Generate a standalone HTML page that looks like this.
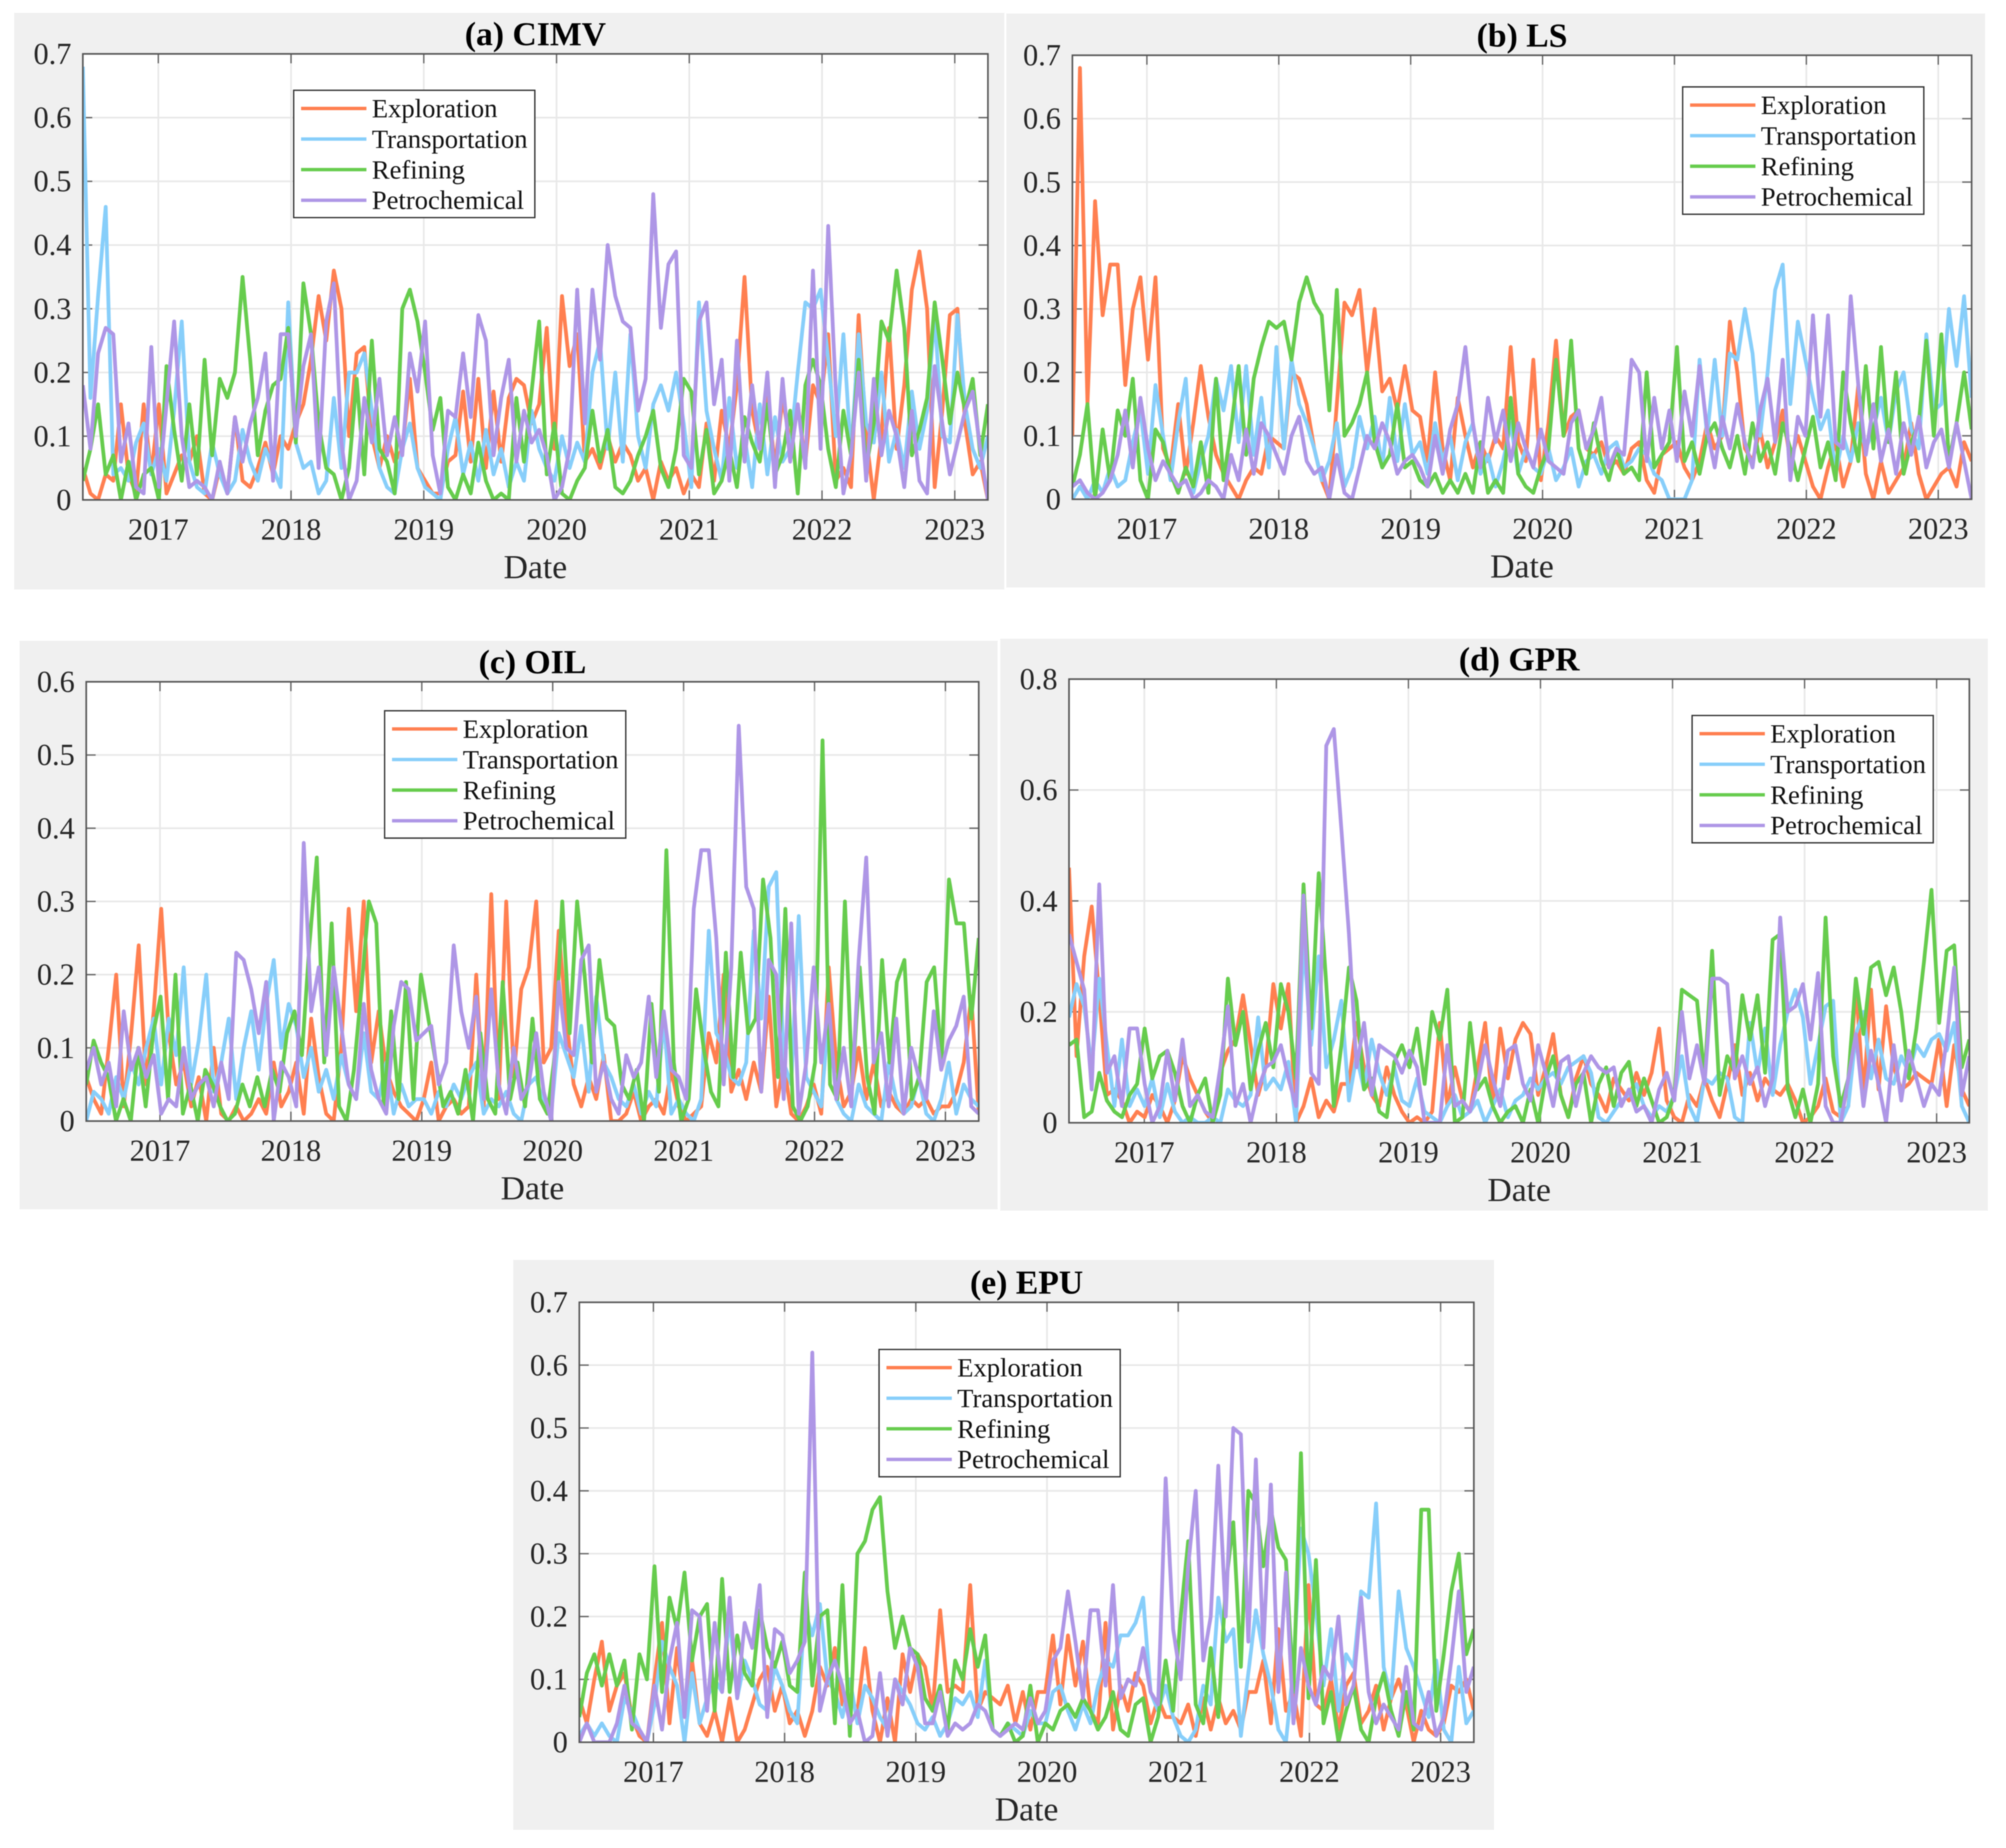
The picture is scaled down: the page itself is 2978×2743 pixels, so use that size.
<!DOCTYPE html>
<html lang="en">
<head>
<meta charset="utf-8">
<title>Connectedness charts</title>
<style>
html,body{margin:0;padding:0;background:#fff;}
svg{display:block;font-family:"Liberation Serif",serif;filter:blur(0.8px);}
</style>
</head>
<body>
<svg id="figure" xmlns="http://www.w3.org/2000/svg" width="2978" height="2743" viewBox="0 0 2978 2743"></svg>
<script>
const yearLabels = [2017,2018,2019,2020,2021,2022,2023];
const seriesNames = ['Exploration','Transportation','Refining','Petrochemical'];
const startYear = 2016.432;
const endYear = 2023.25;
const ticks7 = [0,0.1,0.2,0.3,0.4,0.5,0.6,0.7];
const ticks6 = [0,0.1,0.2,0.3,0.4,0.5,0.6];
const ticks8 = [0,0.2,0.4,0.6,0.8];

const cimvExploration = [5,1,0,4,3,15,4,1,15,4, 15,1,4,7,6,10,1,0,5,1,13,3,2,5,9,4,10, 8,12,15,22,32,25,36,30,10,23,24,10,5,10,6,8,19,5, 3,1,1,6,7,17,6,19,5,17,6,16,19,18,12,15,27, 8,32,21,26,6,8,5,10,6,9,7,3,5,0,6,3,5,1, 4,2,12,3,14,8,18,35,14,8,17,5,16,9,15,6,18, 15,26,3,5,2,29,10,0,10,27,8,18,33,39,30,2,14,29, 30,12,4,6,0];
const cimvTransportation = [68,16,32,46,4,5,3,9,12,4, 8,3,14,28,6,2,1,9,4,1,3,11,6,3,8,5,2, 31,9,5,6,1,3,16,5,20,20,23,14,5,2,1,8,12,5, 2,1,0,8,13,4,9,3,11,4,8,2,6,3,14,8,5, 3,10,5,9,6,20,25,8,20,6,26,10,5,15,18,14,20,12, 2,31,14,8,3,16,5,10,2,15,4,13,6,8,20,31,30, 33,22,10,26,7,26,12,9,20,6,11,5,17,8,14,29,10,9, 29,15,8,5,10];
const cimvRefining = [3,8,15,4,7,0,6,0,4,5, 0,21,11,3,15,4,22,7,19,16,20,35,22,7,14,18,19, 27,9,34,26,12,5,4,0,5,19,4,25,8,6,1,30,33,28, 20,11,16,2,0,4,1,9,3,0,1,0,16,6,17,28,4, 12,1,0,3,5,14,6,11,2,1,3,7,10,14,5,2,8,19, 17,4,11,1,3,8,2,13,9,6,15,4,7,14,1,18,22, 18,8,2,14,7,22,5,12,28,25,36,27,7,11,16,31,22,12, 20,14,19,7,15];
const cimvPetrochemical = [18,8,23,27,26,6,12,2,1,24, 2,15,28,10,2,3,2,0,6,1,13,6,12,16,23,3,26, 26,10,21,26,5,28,34,9,0,3,16,9,19,7,13,7,23,17, 28,7,1,14,13,23,13,29,25,7,16,22,6,14,9,11,7, 0,2,8,33,12,33,22,40,32,28,27,14,19,48,27,37,39,7, 5,28,31,15,22,3,25,6,18,8,20,2,19,6,15,5,36, 8,43,17,1,7,20,3,19,7,14,10,2,14,3,1,21,12,4, 9,14,17,8,0];

const lsExploration = [10,68,15,47,29,37,37,18,30,35, 22,35,8,5,15,4,12,21,13,7,4,2,0,3,5,4,10, 9,8,20,19,15,8,3,0,15,31,29,33,20,30,17,19,14,21, 14,13,6,20,8,3,16,10,5,9,6,10,8,24,9,6,22, 3,12,25,10,13,14,8,7,9,5,6,4,8,9,3,1,7,8, 9,5,3,6,12,8,10,28,20,8,6,11,5,9,14,6,10, 6,2,0,5,9,2,6,18,4,0,6,1,3,5,12,4,0,2, 4,5,2,9,6];
const lsTransportation = [0,2,0,3,1,5,2,3,9,14, 4,18,10,3,12,19,1,6,10,19,14,21,9,21,7,16,5, 24,8,22,15,12,8,3,6,12,2,5,13,8,13,5,16,6,15, 7,9,4,12,6,10,3,9,12,4,7,2,6,12,4,8,5, 4,8,3,5,8,2,6,7,4,8,9,5,6,8,7,4,3,0, 0,0,3,22,10,22,10,23,22,30,23,10,20,33,37,15,28, 22,16,11,14,4,10,6,12,8,11,16,9,17,20,11,8,26,14, 15,30,21,32,16];
const lsRefining = [2,7,15,0,11,3,14,10,19,3, 0,11,9,4,1,5,2,9,1,19,3,11,21,7,19,24,28, 27,28,22,31,35,31,29,14,33,10,12,15,20,9,5,7,15,5, 6,3,2,4,1,3,1,4,1,9,1,3,1,16,4,2,1, 5,8,22,10,25,8,4,12,6,3,8,4,5,3,20,5,7,9, 24,6,9,4,10,12,8,5,10,4,12,6,9,4,12,8,3, 8,13,5,9,3,20,12,6,21,8,24,9,20,4,9,12,25,10, 26,6,12,20,11];
const lsPetrochemical = [2,3,1,0,1,3,7,14,5,16, 8,3,6,4,2,3,0,1,3,2,0,7,3,11,4,12,10, 7,4,10,13,6,4,5,0,7,1,0,5,10,8,12,9,4,6, 7,5,2,10,4,11,15,24,12,5,16,9,14,6,12,8,5, 11,6,5,4,12,14,8,11,16,5,8,7,22,20,6,16,8,14, 6,17,10,21,11,5,13,8,15,9,5,14,19,9,22,3,13, 10,29,13,29,9,8,32,18,7,15,6,11,4,12,7,13,5,9, 11,5,12,6,0];

const oilExploration = [6,3,1,10,20,2,12,24,5,15, 29,12,5,8,2,6,0,10,1,0,2,0,1,3,1,8,2, 4,8,1,14,6,1,0,10,29,15,30,8,15,7,4,2,1,0, 3,8,0,2,3,1,2,20,2,31,3,30,6,18,21,30,8, 10,26,14,5,2,6,3,9,0,0,1,4,0,2,3,1,7,2, 0,1,2,12,8,20,4,7,3,8,4,17,2,8,1,0,2, 5,1,21,8,2,4,10,3,8,2,4,2,1,3,2,3,1,2, 2,4,8,17,1];
const oilTransportation = [0,4,3,1,6,3,8,5,10,14, 5,14,9,21,5,11,20,4,8,14,3,10,15,7,16,22,10, 16,13,6,10,4,7,3,9,5,3,12,4,3,8,1,5,2,3, 3,1,4,2,5,3,6,8,1,3,2,4,1,0,5,6,2, 1,12,9,6,13,4,17,8,6,3,2,5,1,4,2,14,1,3, 1,0,3,26,12,10,6,5,8,26,14,32,34,8,5,28,6, 4,2,15,3,1,0,5,2,1,0,8,3,1,2,6,1,0,3, 8,1,5,3,2];
const oilRefining = [5,11,8,6,0,3,0,10,2,12, 17,3,20,1,5,0,7,5,2,0,1,5,2,6,2,7,4, 12,15,9,24,36,8,27,2,0,7,18,30,27,2,15,3,19,3, 20,14,8,2,4,1,7,0,12,3,1,19,3,8,2,14,3, 1,9,30,12,30,20,8,22,14,13,5,3,7,0,16,4,37,8, 0,3,18,10,4,2,23,6,23,12,14,33,25,6,29,2,0, 2,8,52,5,3,30,5,21,6,1,22,8,19,22,3,6,19,21, 8,33,27,27,14,25];
const oilPetrochemical = [7,10,5,8,2,15,7,10,6,9, 1,3,2,10,3,5,6,2,8,3,23,22,18,12,19,0,8, 6,2,38,15,21,9,21,13,5,3,16,7,3,1,13,19,18,11, 12,13,5,8,24,15,10,17,3,18,5,1,10,3,5,12,4, 0,19,10,9,22,24,4,8,3,1,9,6,8,17,6,15,7,6, 3,29,37,37,25,5,21,54,32,29,4,22,20,3,27,1,8, 21,8,16,3,10,2,22,36,8,12,2,14,1,10,6,3,15,7, 11,13,17,2,1];

const gprExploration = [46,12,30,39,23,5,6,4,0,2, 1,5,3,0,4,12,8,5,2,0,9,13,15,23,14,5,10, 25,17,25,0,3,8,1,4,2,7,7,18,10,5,3,10,5,2, 0,1,0,2,18,3,10,4,2,10,18,3,17,8,15,18,16, 5,10,16,5,1,8,12,7,5,2,8,6,4,9,5,9,17,4, 1,0,5,3,8,4,1,7,14,5,9,4,8,6,5,7,4, 0,1,3,8,2,1,3,25,5,24,6,21,10,6,7,9,8,7, 15,3,14,6,3];
const gprTransportation = [19,25,21,10,26,14,3,15,3,6, 3,8,1,7,2,0,1,0,0,1,0,6,4,3,5,19,6, 8,6,11,0,33,14,30,10,15,22,4,12,6,15,9,5,10,4, 3,8,2,1,0,3,5,1,2,4,0,3,6,1,4,5,8, 6,8,9,7,10,11,12,9,1,0,2,4,5,7,3,1,3,2, 5,12,3,0,8,7,9,8,1,0,18,9,17,5,14,20,24, 19,7,14,21,22,0,3,16,20,8,15,8,7,12,9,14,12,15, 16,13,18,3,0];
const gprRefining = [14,15,1,2,9,4,2,1,5,7, 17,8,12,13,9,3,0,5,8,0,5,26,14,20,6,13,18, 10,25,20,8,43,17,45,25,3,14,28,22,6,8,2,1,11,14, 10,17,7,20,15,24,0,1,18,6,8,3,0,2,3,0,6, 0,8,12,5,1,7,9,0,7,10,3,9,11,3,8,4,0,1, 5,24,23,22,8,31,5,12,9,23,15,23,9,33,34,6,1, 6,0,7,37,12,3,8,26,16,28,29,23,28,20,8,17,29,42, 18,31,32,10,15];
const gprPetrochemical = [34,29,24,6,43,9,12,3,17,17, 7,0,3,13,4,15,3,5,2,1,10,21,3,7,0,6,10, 11,14,8,3,41,9,7,68,71,53,34,10,18,5,14,13,12,9, 13,10,0,0,0,14,3,4,2,7,14,8,3,13,14,7,4, 14,9,3,11,12,3,9,12,10,9,10,3,6,2,3,0,6,9, 4,20,8,14,7,26,26,25,8,12,7,10,3,8,37,20,21, 25,15,27,3,0,0,8,16,3,13,7,0,14,4,13,8,3,7, 5,15,28,5,12];

const epuExploration = [7,3,10,16,5,9,11,4,1,0, 10,19,3,15,5,13,3,1,5,0,7,0,2,6,10,12,5, 9,3,5,1,5,12,9,15,6,7,5,15,5,0,7,0,14,8, 14,12,5,21,8,9,8,25,5,8,7,6,9,3,8,2,8, 8,17,6,17,9,16,5,3,19,2,9,5,11,9,3,7,4,4, 3,6,1,7,2,7,3,5,2,8,8,13,3,18,5,8,1, 25,6,5,10,2,9,11,3,5,9,2,7,10,6,0,5,2,1, 3,9,8,10,5];
const epuTransportation = [1,3,1,3,1,0,7,5,2,0, 6,16,12,9,0,11,3,7,10,8,20,7,13,10,6,5,12, 9,5,3,21,17,22,10,8,4,10,3,9,7,4,2,10,8,6, 3,2,4,1,3,7,6,8,4,13,2,1,3,2,1,5,3, 3,8,9,5,2,6,3,9,13,12,17,17,19,23,8,5,9,4, 1,0,2,9,6,23,16,18,1,11,21,14,9,2,0,12,34, 30,21,9,18,5,14,12,24,23,38,12,7,24,15,12,8,4,13, 2,0,12,3,5];
const epuRefining = [4,11,14,9,14,9,13,2,14,10, 28,8,23,18,27,13,20,22,5,26,8,17,11,9,21,15,12, 16,9,8,27,9,20,21,3,25,1,30,32,37,39,24,15,20,15, 14,7,5,9,2,13,10,18,12,17,2,1,3,0,1,9,0, 3,2,5,6,4,7,5,2,4,8,2,1,6,7,0,4,13,5, 20,32,6,3,15,4,25,35,12,40,38,28,37,31,29,8,46, 7,29,3,8,0,5,9,2,0,7,11,5,1,8,2,37,37,5, 14,24,30,14,18];
const epuPetrochemical = [0,3,0,0,0,3,9,3,2,0, 9,2,13,19,4,21,20,5,19,8,23,7,19,15,25,4,18, 17,11,13,16,62,5,10,13,9,3,5,0,1,11,1,10,6,15, 12,3,3,8,1,3,2,3,6,5,2,1,2,3,2,7,3, 5,13,15,24,16,7,21,21,9,25,7,10,9,15,8,6,42,18, 10,28,40,13,20,44,20,50,49,16,45,15,41,8,27,3,15, 9,6,12,10,20,6,9,23,8,3,6,4,2,12,3,2,8,1, 4,13,24,8,12];

const seriesColors = ['#ff7f50','#87cefa','#66cc4d','#ae96e6'];

const panels = [
  {id:'cimv',title:'(a) CIMV',bg:[21,19,1470,856],box:[123,80,1466.6,742],year2017:235,legend:[436,134],ticks:ticks7,series:[cimvExploration,cimvTransportation,cimvRefining,cimvPetrochemical]},
  {id:'ls',title:'(b) LS',bg:[1494,20,1453,852],box:[1592,82,2927,741],year2017:1702.6,legend:[2498,129],ticks:ticks7,series:[lsExploration,lsTransportation,lsRefining,lsPetrochemical]},
  {id:'oil',title:'(c) OIL',bg:[29,951,1452,844],box:[128,1012,1453,1664],year2017:237.5,legend:[571,1055],ticks:ticks6,series:[oilExploration,oilTransportation,oilRefining,oilPetrochemical]},
  {id:'gpr',title:'(d) GPR',bg:[1485,948,1466,849],box:[1587,1008,2923.6,1666.5],year2017:1698.8,legend:[2512,1062],ticks:ticks8,series:[gprExploration,gprTransportation,gprRefining,gprPetrochemical]},
  {id:'epu',title:'(e) EPU',bg:[762,1870,1456,846],box:[860,1933,2188,2586],year2017:970,legend:[1305,2003],ticks:ticks7,series:[epuExploration,epuTransportation,epuRefining,epuPetrochemical]}
];

const NS = 'http://www.w3.org/2000/svg';
const root = document.getElementById('figure');

function make(tag, attrs, parent) {
  const el = document.createElementNS(NS, tag);
  for (const k in attrs) el.setAttribute(k, attrs[k]);
  parent.appendChild(el);
  return el;
}

panels.forEach(function (p) {
  const left = p.box[0], top = p.box[1], right = p.box[2], bottom = p.box[3];
  const yMax = p.ticks[p.ticks.length - 1];
  const xScale = function (year) { return left + (year - startYear) / (endYear - startYear) * (right - left); };
  const yScale = function (v) { return bottom - v / yMax * (bottom - top); };

  const g = make('g', {}, root);
  
  

  const bg = make('rect', {x:p.bg[0], y:p.bg[1], width:p.bg[2], height:p.bg[3], fill:'#f0f0f0'}, g);
  
  

  const plot = make('rect', {x:left, y:top, width:right-left, height:bottom-top, fill:'#ffffff'}, g);
  
  

  const title = make('text', {x:(left+right)/2, y:top-13, 'text-anchor':'middle', 'font-size':50, 'font-weight':'bold', fill:'#000'}, g);
  title.textContent = p.title;
  
  

  // y gridlines, ticks, labels
  p.ticks.forEach(function (t) {
    const y = yScale(t);
    if (t > 0 && t < yMax) {
      const grid = make('line', {x1:left, x2:right, y1:y, y2:y, stroke:'#e8e8e8', 'stroke-width':2.5}, g);
      
      
      const tl = make('line', {x1:left, x2:left+14, y1:y, y2:y, stroke:'#666', 'stroke-width':2}, g);
      
      
      const tr = make('line', {x1:right-14, x2:right, y1:y, y2:y, stroke:'#666', 'stroke-width':2}, g);
      
      
    }
    const lab = make('text', {x:left-17, y:y+15, 'text-anchor':'end', 'font-size':45, fill:'#262626'}, g);
    lab.textContent = String(t);
    
    
  });

  // x gridlines, ticks, labels
  yearLabels.forEach(function (yr) {
    const x = p.year2017 + (yr - 2017) * (right - left) / (endYear - startYear);
    const grid = make('line', {x1:x, x2:x, y1:top, y2:bottom, stroke:'#e8e8e8', 'stroke-width':2.5}, g);
    
    
    const tt = make('line', {x1:x, x2:x, y1:top, y2:top+14, stroke:'#666', 'stroke-width':2}, g);
    
    
    const tb = make('line', {x1:x, x2:x, y1:bottom-14, y2:bottom, stroke:'#666', 'stroke-width':2}, g);
    
    
    const lab = make('text', {x:x, y:bottom+59, 'text-anchor':'middle', 'font-size':45, fill:'#262626'}, g);
    lab.textContent = String(yr);
    
    
  });

  const xTitle = make('text', {x:(left+right)/2, y:bottom+116, 'text-anchor':'middle', 'font-size':50, fill:'#262626'}, g);
  xTitle.textContent = 'Date';
  
  

  // series
  const defs = make('defs', {}, g);
  const clip = make('clipPath', {id:'clip-' + p.id}, defs);
  make('rect', {x:left, y:top-3, width:right-left, height:bottom-top+3}, clip);
  p.series.forEach(function (values, s) {
    const n = values.length;
    const pts = values.map(function (v, i) {
      const year = startYear + i / (n - 1) * (endYear - startYear);
      return xScale(year).toFixed(1) + ',' + yScale(v / 100).toFixed(1);
    }).join(' ');
    const line = make('polyline', {points:pts, fill:'none', stroke:seriesColors[s], 'stroke-width':5.6, 'stroke-linejoin':'round', 'clip-path':'url(#clip-' + p.id + ')'}, g);
    
    
  });

  // axes box
  const frame = make('rect', {x:left, y:top, width:right-left, height:bottom-top, fill:'none', stroke:'#555', 'stroke-width':2.4}, g);
  
  

  // legend
  const lx = p.legend[0], ly = p.legend[1];
  const lg = make('g', {}, g);
  
  
  const lbox = make('rect', {x:lx, y:ly, width:358, height:189, fill:'#fff', stroke:'#333', 'stroke-width':2}, lg);
  
  
  seriesNames.forEach(function (name, s) {
    const rowY = ly + 27 + s * 45.4;
    const sample = make('line', {x1:lx+11, x2:lx+108, y1:rowY, y2:rowY, stroke:seriesColors[s], 'stroke-width':5}, lg);
    
    
    const txt = make('text', {x:lx+116, y:rowY+13, 'font-size':39.5, fill:'#111'}, lg);
    txt.textContent = name;
    
    
  });
});
</script>
</body>
</html>
